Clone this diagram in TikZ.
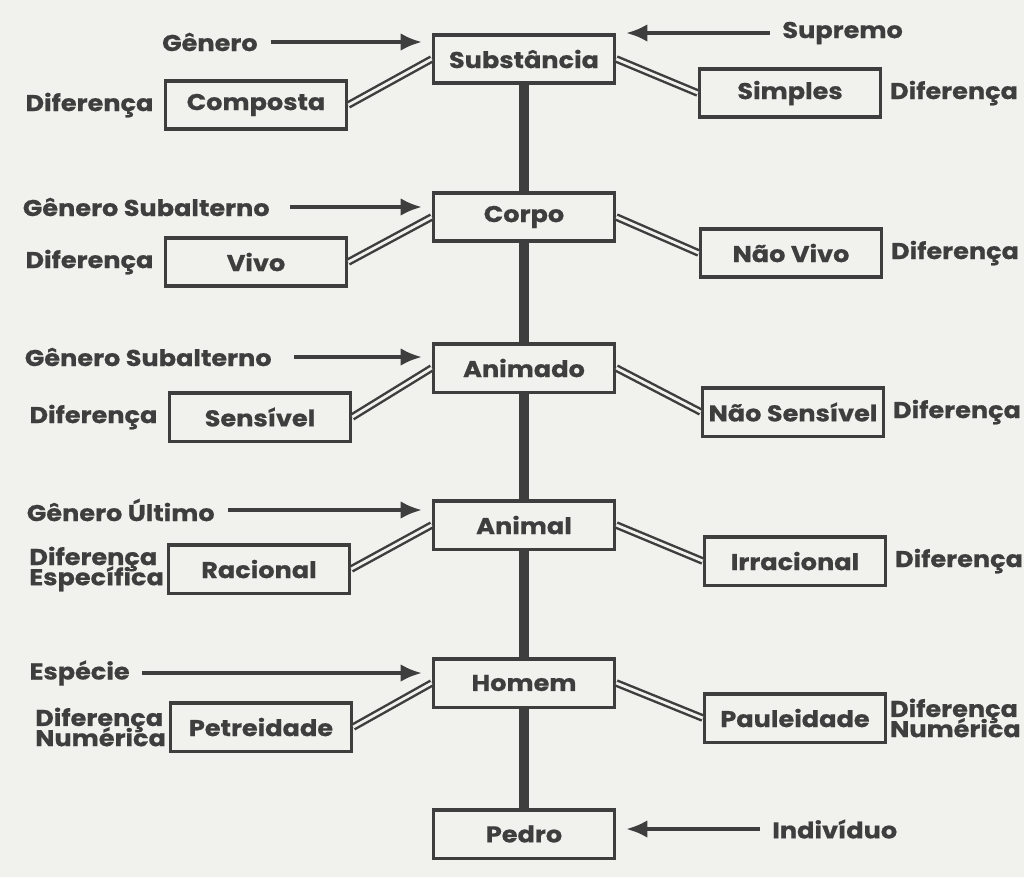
\documentclass[tikz,border=0pt]{standalone}
\usepackage{fontspec}
\setmainfont{Poppins}[BoldFeatures={FakeStretch=1.12, FakeBold=0.6}]
\usetikzlibrary{
    positioning,                      % left=of, right=of
    arrows.meta,                      % Latex tips
    calc
}
\definecolor{ink}{RGB}{62,62,62}
\definecolor{paper}{RGB}{241,241,237}
\tikzset{
    block/.style={
        rectangle, draw=ink, fill=paper, line width=2pt,
        minimum width=3.62cm, minimum height=0.97cm,
        align=center, text=ink, inner sep=2pt,
        font=\bfseries\fontsize{13}{13}\selectfont
    },
    tag/.style={
        align=left, text=ink, inner sep=0pt,
        font={\bfseries\fontsize{13}{11.5}\selectfont\lineskiplimit=-10pt}
    },
    arrow/.style={
        -{Latex[length=12pt,width=10pt]}, draw=ink, line width=2pt,
        shorten >=2mm, shorten <=2.5mm
    },
    branch/.style={
        draw=ink, double=paper, line width=1.4pt, double distance=1.6pt
    },
    trunk/.style={
        draw=ink, line width=5.5pt
    }
}

\begin{document}
\begin{tikzpicture}[x=0.02cm, y=-0.02cm]

    % Fundo
    \fill[paper] (0,0) rectangle (1024,877);
    \useasboundingbox (0,0) rectangle (1024,877);

    % Tronco central
    \node[block] (sub)  at (524,59)  {Substância};
    \node[block] (cor)  at (524,217) {Corpo};
    \node[block] (anim) at (524,368) {Animado};
    \node[block] (anl)  at (524,525) {Animal};
    \node[block] (hom)  at (524,683) {Homem};
    \node[block] (ped)  at (524,834) {Pedro};

    \draw[trunk] (sub) -- (cor);
    \draw[trunk] (cor) -- (anim);
    \draw[trunk] (anim) -- (anl);
    \draw[trunk] (anl) -- (hom);
    \draw[trunk] (hom) -- (ped);

    % Diferencas a esquerda
    \node[block] (comp) at (256,105) {Composta};
    \node[block] (vivo) at (256,262) {Vivo};
    \node[block] (sens) at (260,417) {Sensível};
    \node[block] (rac)  at (259,569) {Racional};
    \node[block] (pet)  at (261,727) {Petreidade};

    % Diferencas a direita
    \node[block] (simp)  at (790,93)  {Simples};
    \node[block] (nviv)  at (791,253) {Não Vivo};
    \node[block] (nsens) at (793,412) {Não Sensível};
    \node[block] (irr)   at (795,561) {Irracional};
    \node[block] (paul)  at (795,718) {Pauleidade};

    % Ramos duplos
    \draw[branch] (comp.east) -- (sub.west);
    \draw[branch] (vivo.east) -- (cor.west);
    \draw[branch] (sens.east) -- (anim.west);
    \draw[branch] (rac.east) -- (anl.west);
    \draw[branch] (pet.east) -- (hom.west);
    \draw[branch] (sub.east) -- (simp.west);
    \draw[branch] (cor.east) -- (nviv.west);
    \draw[branch] (anim.east) -- (nsens.west);
    \draw[branch] (anl.east) -- (irr.west);
    \draw[branch] (hom.east) -- (paul.west);

    % Rotulos "Diferenca"
    \node[tag, left=2mm of comp] (dcomp) {Diferença};
    \node[tag, left=2mm of vivo] (dvivo) {Diferença};
    \node[tag, left=2mm of sens] (dsens) {Diferença};
    \node[tag, left=0.5mm of rac] (drac) {Diferença\\Específica};
    \node[tag, left=0.5mm of pet] (dpet) {Diferença\\Numérica};
    \node[tag, right=1.5mm of simp] (dsimp) {Diferença};
    \node[tag, right=1.5mm of nviv] (dnviv) {Diferença};
    \node[tag, right=1.5mm of nsens] (dnsens) {Diferença};
    \node[tag, right=1.5mm of irr] (dirr) {Diferença};
    \node[tag, right=0.5mm of paul] (dpaul) {Diferença\\Numérica};

    % Generos e setas
    \node[tag, anchor=east] (gen)   at (258,42)  {Gênero};
    \node[tag, anchor=east] (gsubA) at (270,207) {Gênero Subalterno};
    \node[tag, anchor=east] (gsubB) at (272,357) {Gênero Subalterno};
    \node[tag, anchor=east] (gult)  at (215,510) {Gênero Último};
    \node[tag, anchor=east] (esp)   at (130,673) {Espécie};
    \node[tag, anchor=west] (sup)   at (782,33)  {Supremo};
    \node[tag, anchor=west] (ind)   at (772,829) {Indivíduo};

    \draw[arrow] (gen.east) -- (gen.east -| sub.west);
    \draw[arrow, shorten <=4mm] (gsubA.east) -- (gsubA.east -| cor.west);
    \draw[arrow, shorten <=4.5mm] (gsubB.east) -- (gsubB.east -| anim.west);
    \draw[arrow] (gult.east) -- (gult.east -| anl.west);
    \draw[arrow] (esp.east) -- (esp.east -| hom.west);
    \draw[arrow] (sup.west) -- (sup.west -| sub.east);
    \draw[arrow] (ind.west) -- (ind.west -| ped.east);

\end{tikzpicture}
\end{document}
